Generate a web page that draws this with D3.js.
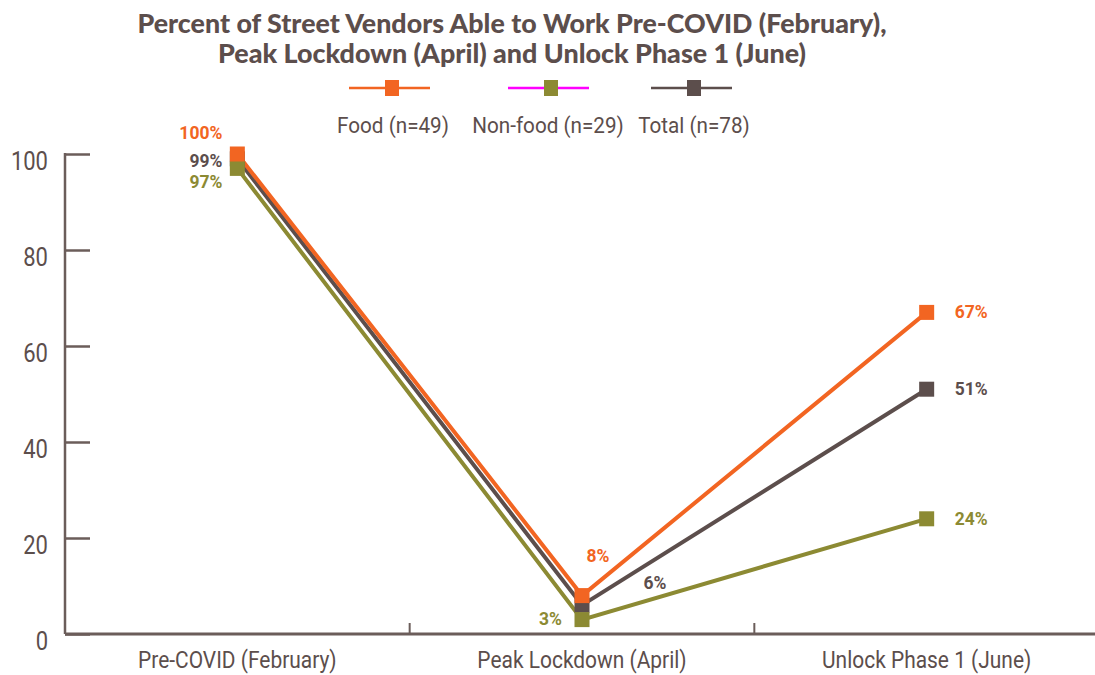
<!DOCTYPE html>
<html>
<head>
<meta charset="utf-8">
<script src="https://cdn.jsdelivr.net/npm/d3@7"></script>
<style>
  body { margin: 0; background: #fff; }
  svg { display: block; }
</style>
</head>
<body>
<div class="linechart"></div>
<script>
// chart values
const periods = ["Pre-COVID (February)", "Peak Lockdown (April)", "Unlock Phase 1 (June)"];
const foodValues = [100, 8, 67];
const nonFoodValues = [97, 3, 24];
const totalValues = [99, 6, 51];
const seriesNames = ["Food (n=49)", "Non-food (n=29)", "Total (n=78)"];
const yTicks = [0, 20, 40, 60, 80, 100];

const width = 1095, height = 675;
const brown = "#5c4e4c", axisColor = "#6b5d5a";

const svg = d3.select(".linechart")
  .append("svg")
    .attr("width", width)
    .attr("height", height);

// squeeze text horizontally to mimic a condensed face
function condense(sel, factor) {
  sel.each(function() {
    const w = this.getComputedTextLength();
    d3.select(this)
      .attr("textLength", w * factor)
      .attr("lengthAdjust", "spacingAndGlyphs");
  });
}

const x = d3.scaleBand()
  .domain(periods)
  .range([65, 1099]);

const y = d3.scaleLinear()
  .domain([0, 100])
  .range([634, 154]);

// Title
svg.append("text")
    .attr("x", 512).attr("y", 33)
    .attr("text-anchor", "middle")
    .attr("textLength", 749).attr("lengthAdjust", "spacingAndGlyphs")
    .style("font-family", "Lato, sans-serif").style("font-weight", "900")
    .style("font-size", "26px").style("fill", brown)
    .text("Percent of Street Vendors Able to Work Pre-COVID (February),");
svg.append("text")
    .attr("x", 512).attr("y", 63)
    .attr("text-anchor", "middle")
    .attr("textLength", 588).attr("lengthAdjust", "spacingAndGlyphs")
    .style("font-family", "Lato, sans-serif").style("font-weight", "900")
    .style("font-size", "26px").style("fill", brown)
    .text("Peak Lockdown (April) and Unlock Phase 1 (June)");

// Y axis
const yAxis = svg.append("g")
    .attr("transform", "translate(65,0)")
    .call(d3.axisRight(y).tickValues(yTicks).tickSize(25).tickFormat(""));
yAxis.select(".domain").remove();
yAxis.selectAll(".tick line").attr("stroke", axisColor).attr("stroke-width", 2.5);
svg.append("line")
    .attr("x1", 65).attr("x2", 65)
    .attr("y1", y(100) - 1).attr("y2", y(0))
    .attr("stroke", axisColor).attr("stroke-width", 2.5);
svg.append("g")
  .selectAll("text")
  .data(yTicks)
  .enter()
  .append("text")
    .attr("x", 48)
    .attr("y", d => y(d) + 16)
    .attr("text-anchor", "end")
    .style("font-family", "Roboto, sans-serif")
    .style("font-size", "25px")
    .style("fill", brown)
    .text(d => d)
    .call(condense, 0.88);

// X axis
svg.append("line")
    .attr("x1", 65).attr("x2", 1095)
    .attr("y1", y(0)).attr("y2", y(0))
    .attr("stroke", axisColor).attr("stroke-width", 3);
svg.append("g")
  .selectAll("line")
  .data(periods.slice(1))
  .enter()
  .append("line")
    .attr("x1", d => x(d)).attr("x2", d => x(d))
    .attr("y1", y(0)).attr("y2", y(0) - 11)
    .attr("stroke", axisColor).attr("stroke-width", 2);
svg.append("g")
  .selectAll("text")
  .data(periods)
  .enter()
  .append("text")
    .attr("x", d => x(d) + x.bandwidth() / 2)
    .attr("y", 668)
    .attr("text-anchor", "middle")
    .style("font-family", "Roboto, sans-serif")
    .style("font-size", "23px")
    .style("fill", brown)
    .text(d => d)
    .call(condense, 0.91);

// Series (drawn bottom to top: total, non-food, food)
const series = [
  {name: seriesNames[2], values: totalValues, color: "#5c4e4c", legendLine: "#5c4e4c",
   labelPos: [{dx: -15, dy: 8, anchor: "end"}, {dx: 73, dy: -16, anchor: "middle"}, {dx: 28, dy: 6, anchor: "start"}]},
  {name: seriesNames[1], values: nonFoodValues, color: "#8c8a33", legendLine: "#ff00ff",
   labelPos: [{dx: -15, dy: 20, anchor: "end"}, {dx: -20, dy: 5, anchor: "end"}, {dx: 28, dy: 6, anchor: "start"}]},
  {name: seriesNames[0], values: foodValues, color: "#f26522", legendLine: "#f26522",
   labelPos: [{dx: -15, dy: -15, anchor: "end"}, {dx: 16, dy: -34, anchor: "middle"}, {dx: 28, dy: 6, anchor: "start"}]}
];

const line = d3.line()
  .x((d, i) => x(periods[i]) + x.bandwidth() / 2)
  .y(d => y(d));

series.forEach(s => {
  svg.append("path")
      .datum(s.values)
      .attr("d", line)
      .attr("fill", "none")
      .attr("stroke", s.color)
      .attr("stroke-width", 4);
});

series.forEach(s => {
  svg.append("g")
    .selectAll("rect")
    .data(s.values)
    .enter()
    .append("rect")
      .attr("x", (d, i) => x(periods[i]) + x.bandwidth() / 2 - 7.5)
      .attr("y", d => y(d) - 7.5)
      .attr("width", 15)
      .attr("height", 15)
      .style("fill", s.color);

  svg.append("g")
    .selectAll("text")
    .data(s.values)
    .enter()
    .append("text")
      .attr("x", (d, i) => x(periods[i]) + x.bandwidth() / 2 + s.labelPos[i].dx)
      .attr("y", (d, i) => y(d) + s.labelPos[i].dy)
      .attr("text-anchor", (d, i) => s.labelPos[i].anchor)
      .style("font-family", "Roboto, sans-serif")
      .style("font-weight", "bold")
      .style("font-size", "18px")
      .style("fill", s.color)
      .text(d => d + "%")
      .call(condense, 0.97);
});

// Legend
const legendItems = [
  {s: series[2], cx: 392, tx: 393},
  {s: series[1], cx: 551, tx: 548},
  {s: series[0], cx: 694, tx: 694}
];
const legend = svg.append("g");
legendItems.forEach(item => {
  legend.append("line")
      .attr("x1", item.cx - 43).attr("x2", item.cx + 38)
      .attr("y1", 88).attr("y2", 88)
      .attr("stroke", item.s.legendLine).attr("stroke-width", 2.5);
  legend.append("rect")
      .attr("x", item.cx - 7).attr("y", 80)
      .attr("width", 14).attr("height", 16)
      .style("fill", item.s.color);
  legend.append("text")
      .attr("x", item.tx).attr("y", 133)
      .attr("text-anchor", "middle")
      .style("font-family", "Roboto, sans-serif")
      .style("font-size", "22px")
      .style("fill", brown)
      .text(item.s.name)
      .call(condense, 0.94);
});
</script>
</body>
</html>
